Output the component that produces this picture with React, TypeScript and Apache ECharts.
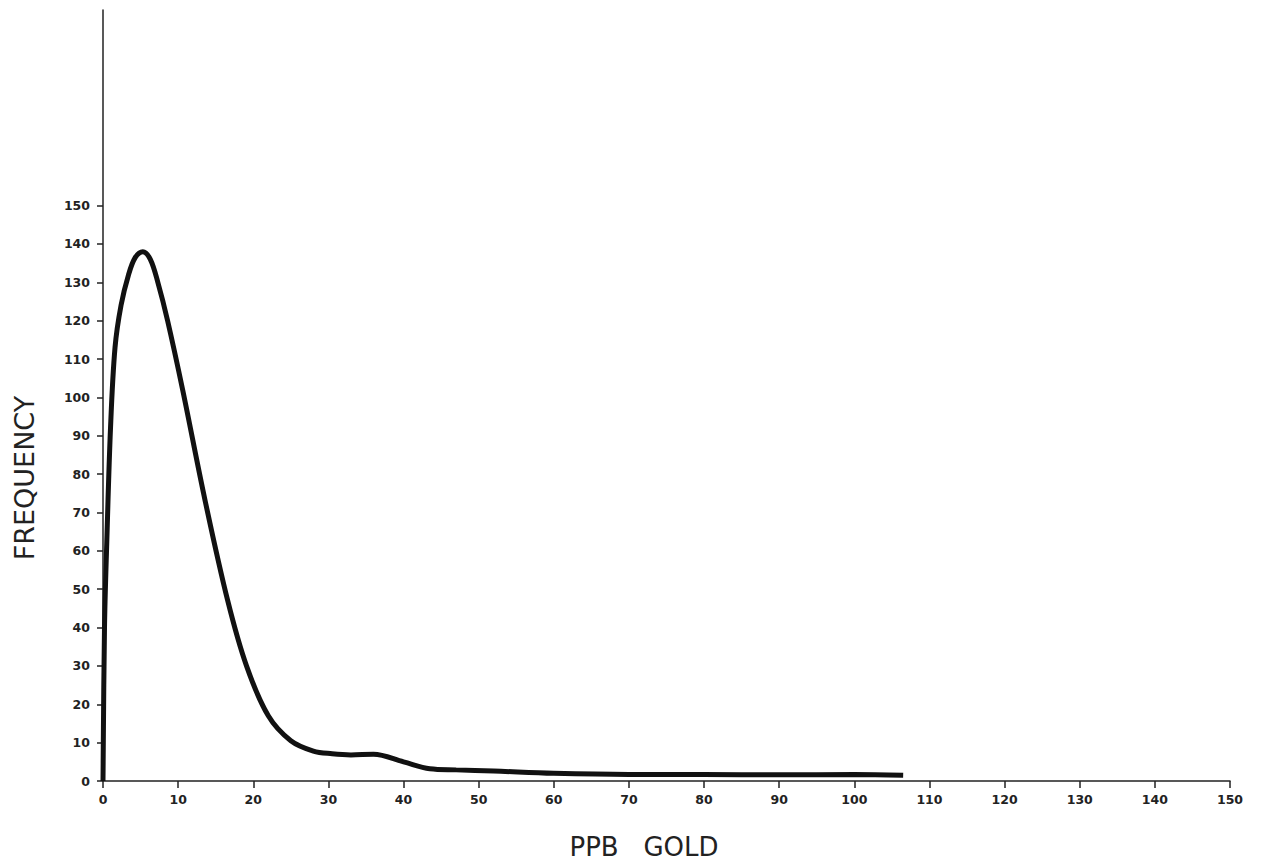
import React, { useEffect, useRef } from "react";
import * as echarts from "echarts";

const ppbGold: number[] = [0, 0.2, 0.5, 1.0, 1.6, 2.4, 3.4, 4.3, 5.3, 6.3, 7.3, 8.6, 10.6, 13.6, 16.6, 19.1, 22, 25, 28, 30.5, 33, 36, 40, 43.5, 47, 52, 60, 70, 80, 90, 100, 106.5];
const frequency: number[] = [0, 40, 62, 92, 113, 124, 132, 136.5, 138, 136, 130, 120, 102, 73, 47, 30, 17, 10.5, 7.8, 7.1, 6.8, 7.0, 5, 3.2, 2.9, 2.6, 2, 1.7, 1.7, 1.6, 1.7, 1.5];
const yTicks: number[] = [0, 10, 20, 30, 40, 50, 60, 70, 80, 90, 100, 110, 120, 130, 140, 150];
const xTitle = "PPB   GOLD";
const yTitle = "FREQUENCY";

export default function App() {
  const ref = useRef<HTMLDivElement>(null);
  useEffect(() => {
    if (!ref.current) return;
    const chart = echarts.init(ref.current, null, { renderer: "svg" });
    const data = ppbGold.map((x, i) => [x, frequency[i]]);
    const labelFont = { fontFamily: "DejaVu Sans", fontWeight: "bold" as const, fontSize: 12.5, color: "#222" };
    chart.setOption({
      animation: false,
      backgroundColor: "#fff",
      grid: { left: 103, right: 31, top: 10, bottom: 83, containLabel: false },
      xAxis: {
        type: "value",
        min: 0,
        max: 150,
        interval: 10,
        splitLine: { show: false },
        axisLine: { show: true, onZero: false, lineStyle: { color: "#222", width: 1.5 } },
        axisTick: { show: true, length: 7, lineStyle: { color: "#222", width: 1.5 } },
        axisLabel: { ...labelFont, margin: 12 },
      },
      yAxis: {
        type: "value",
        min: 0,
        max: 201,
        splitLine: { show: false },
        axisLine: { show: true, onZero: false, lineStyle: { color: "#222", width: 1.5 } },
        axisTick: { show: true, length: 6, customValues: yTicks, lineStyle: { color: "#222", width: 1.5 } },
        axisLabel: { ...labelFont, margin: 13, customValues: yTicks },
      },
      series: [
        {
          type: "line",
          data,
          smooth: 0.35,
          showSymbol: false,
          lineStyle: { color: "#111", width: 5 },
        },
      ],
      graphic: [
        {
          type: "text",
          x: 24,
          y: 478,
          rotation: Math.PI / 2,
          style: {
            text: yTitle,
            font: "27px 'DejaVu Sans'",
            fill: "#222",
            align: "center",
            verticalAlign: "middle",
          },
        },
        {
          type: "text",
          x: 644,
          y: 847,
          style: {
            text: xTitle,
            font: "26px 'DejaVu Sans'",
            fill: "#222",
            align: "center",
            verticalAlign: "middle",
          },
        },
      ],
    });
    return () => chart.dispose();
  }, []);
  return (
    <div
      ref={ref}
      style={{ position: "absolute", left: 0, top: 0, width: 1261, height: 864 }}
    />
  );
}
